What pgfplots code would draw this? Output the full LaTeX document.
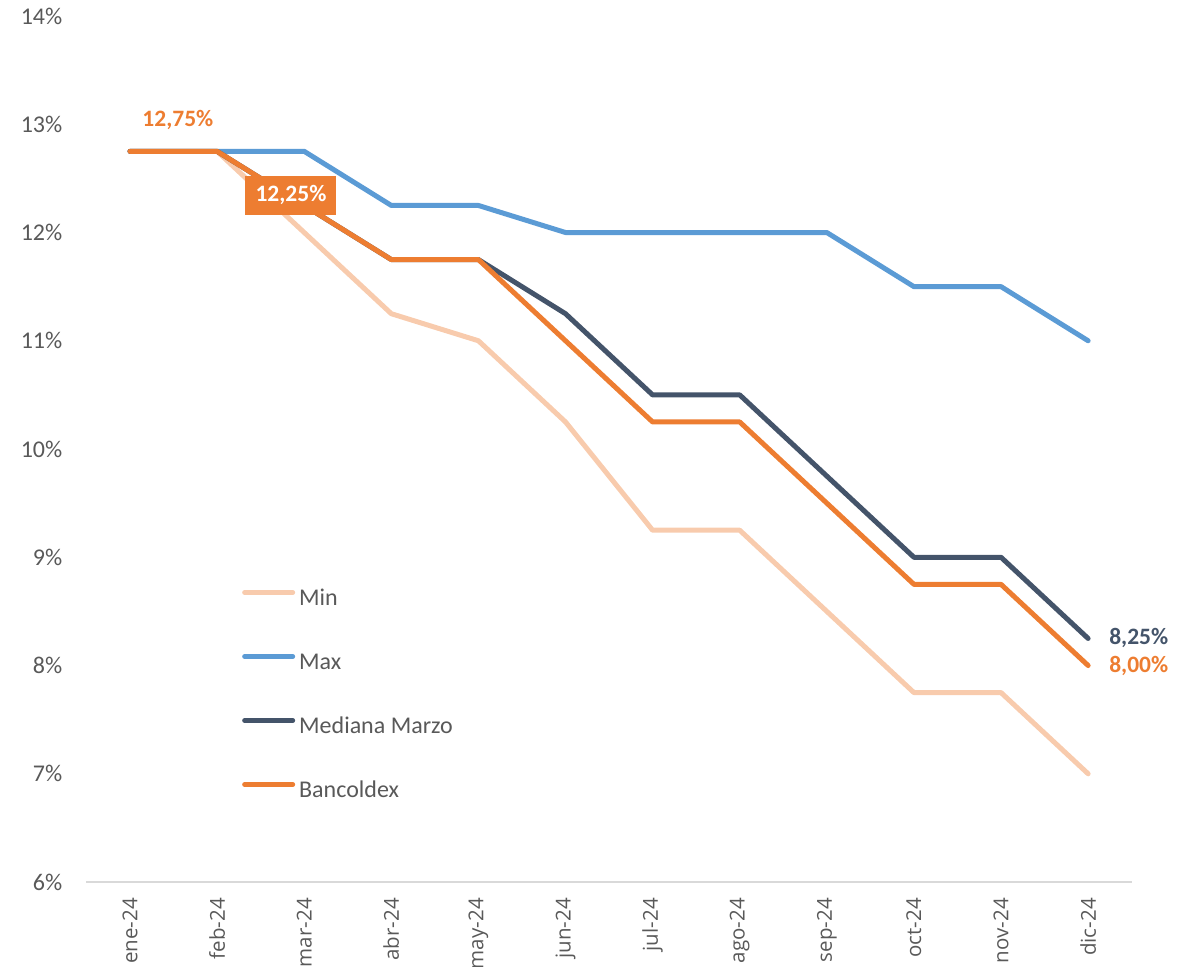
\documentclass[border=0pt]{standalone}
\usepackage{fontspec}
\setmainfont{Carlito}
\newfontfamily\xlabfont{Open Sans}
\usepackage{pgfplots}
\pgfplotsset{compat=1.18}
\definecolor{cMin}{RGB}{248,203,173}
\definecolor{cMax}{RGB}{91,155,213}
\definecolor{cMed}{RGB}{68,84,106}
\definecolor{cBanc}{RGB}{237,125,49}
\definecolor{tickgray}{RGB}{89,89,89}
\definecolor{axisgray}{RGB}{217,217,217}
\begin{document}
\begin{tikzpicture}
\begin{axis}[
  scale only axis,
  width=1045.2pt, height=866pt,
  xmin=-0.5, xmax=11.5, ymin=6, ymax=14,
  xtick={0,...,11},
  xticklabels={ene-24,feb-24,mar-24,abr-24,may-24,jun-24,jul-24,ago-24,sep-24,oct-24,nov-24,dic-24},
  ytick={6,...,14},
  yticklabels={6\%,7\%,8\%,9\%,10\%,11\%,12\%,13\%,14\%},
  axis x line*=bottom, axis y line*=left,
  x axis line style={draw=axisgray, line width=1.5pt, -},
  y axis line style={draw=none},
  major tick length=0pt,
  tick label style={font=\fontsize{24}{28}\selectfont, text=tickgray},
  x tick label style={rotate=90, anchor=east, inner sep=0pt, font=\xlabfont\fontsize{20.5}{24}\selectfont},
  xticklabel shift=16pt,
  y tick label style={anchor=east, inner sep=0pt},
  yticklabel shift=24pt,
  legend style={at={(0.1488,0.3379)}, anchor=north west, draw=none, fill=none,
    inner sep=0pt, row sep=43pt, column sep=4pt,
    font=\fontsize{24}{28}\selectfont, text=tickgray,
    nodes={inner sep=0pt, text height=16pt, text depth=5pt}},
  legend cell align=left,
  legend image code/.code={\draw[#1, line cap=round] (2.5pt,7.6pt) -- (50.5pt,7.6pt);},
  every axis plot/.append style={line width=5pt, line join=round, line cap=round},
  clip=false,
]
\addplot[cMin] coordinates {(0,12.75) (1,12.75) (2,12.0) (3,11.25) (4,11.0) (5,10.25) (6,9.25) (7,9.25) (8,8.5) (9,7.75) (10,7.75) (11,7.0)};
\addlegendentry{Min}
\addplot[cMax] coordinates {(0,12.75) (1,12.75) (2,12.75) (3,12.25) (4,12.25) (5,12.0) (6,12.0) (7,12.0) (8,12.0) (9,11.5) (10,11.5) (11,11.0)};
\addlegendentry{Max}
\addplot[cMed] coordinates {(0,12.75) (1,12.75) (2,12.25) (3,11.75) (4,11.75) (5,11.25) (6,10.5) (7,10.5) (8,9.75) (9,9.0) (10,9.0) (11,8.25)};
\addlegendentry{Mediana Marzo}
\addplot[cBanc] coordinates {(0,12.75) (1,12.75) (2,12.25) (3,11.75) (4,11.75) (5,11.0) (6,10.25) (7,10.25) (8,9.5) (9,8.75) (10,8.75) (11,8.0)};
\addlegendentry{Bancoldex}

\node[text=cBanc, font=\bfseries\fontsize{23.5}{27}\selectfont, inner sep=0pt] at (axis cs:0.55,13.04) {12,75\%};
\node[fill=cBanc, text=white, font=\bfseries\fontsize{23.5}{27}\selectfont, minimum width=91pt, minimum height=39pt, inner sep=0pt] at (axis cs:1.848,12.346) {12,25\%};
\node[anchor=west, text=cMed, font=\bfseries\fontsize{23.5}{27}\selectfont, inner sep=0pt, xshift=21pt] at (axis cs:11,8.25) {8,25\%};
\node[anchor=west, text=cBanc, font=\bfseries\fontsize{23.5}{27}\selectfont, inner sep=0pt, xshift=21pt] at (axis cs:11,8.0) {8,00\%};

\coordinate (bl) at (axis cs:-1.4925,5.224);
\coordinate (tr) at (axis cs:12.296,14.148);
\end{axis}
\pgfresetboundingbox
\path (bl) rectangle (tr);
\end{tikzpicture}
\end{document}
